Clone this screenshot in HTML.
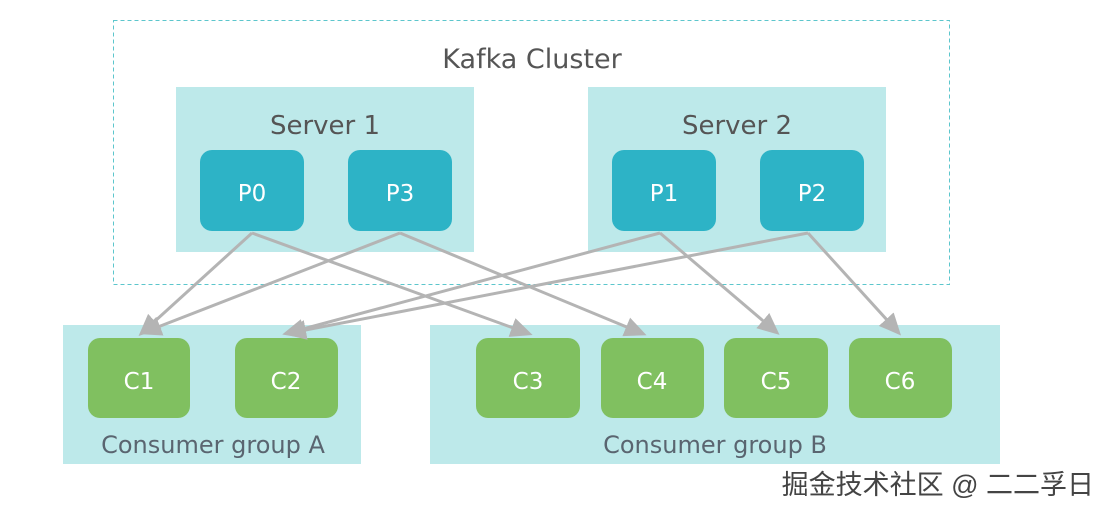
<!DOCTYPE html>
<html><head><meta charset="utf-8"><style>
body{margin:0;width:1112px;height:515px;background:#fff;overflow:hidden;font-family:"DejaVu Sans","Liberation Sans",sans-serif}
</style></head><body>
<svg width="1112" height="515" xmlns="http://www.w3.org/2000/svg" style="position:absolute;left:0;top:0">
<defs><marker id="a" markerWidth="10" markerHeight="10" refX="7" refY="5" orient="auto" markerUnits="userSpaceOnUse" viewBox="0 0 10 10"><path d="M0,0 L10,5 L0,10 z" fill="#b4b4b4"/></marker>
<marker id="b" markerWidth="22" markerHeight="20" refX="16" refY="10" orient="auto" markerUnits="userSpaceOnUse"><path d="M0,0 L22,10 L0,20 z" fill="#b4b4b4"/></marker></defs>
<rect x="113.5" y="20.5" width="836" height="264" fill="none" stroke="#5cc6cc" stroke-dasharray="4,3"/>
<text x="532" y="68" text-anchor="middle" font-size="27" fill="#555" font-family="DejaVu Sans, sans-serif">Kafka Cluster</text>
<rect x="176" y="87" width="298" height="165" fill="#bde9ea"/>
<rect x="588" y="87" width="298" height="165" fill="#bde9ea"/>
<text x="325" y="134" text-anchor="middle" font-size="26" fill="#555">Server 1</text>
<text x="737" y="134" text-anchor="middle" font-size="26" fill="#555">Server 2</text>
<g fill="#2db3c6">
<rect x="200" y="150" width="104" height="81" rx="12"/><rect x="348" y="150" width="104" height="81" rx="12"/>
<rect x="612" y="150" width="104" height="81" rx="12"/><rect x="760" y="150" width="104" height="81" rx="12"/></g>
<g fill="#fff" font-size="23" text-anchor="middle"><text x="252" y="201">P0</text><text x="400" y="201">P3</text><text x="664" y="201">P1</text><text x="812" y="201">P2</text></g>
<rect x="63" y="325" width="298" height="139" fill="#bde9ea"/>
<rect x="430" y="325" width="570" height="139" fill="#bde9ea"/>
<g fill="#80c060">
<rect x="88" y="338" width="102" height="80" rx="12"/><rect x="235" y="338" width="103" height="80" rx="12"/>
<rect x="476" y="338" width="104" height="80" rx="12"/><rect x="601" y="338" width="103" height="80" rx="12"/>
<rect x="724" y="338" width="104" height="80" rx="12"/><rect x="849" y="338" width="103" height="80" rx="12"/></g>
<g fill="#fff" font-size="23" text-anchor="middle"><text x="139" y="389">C1</text><text x="286" y="389">C2</text><text x="528" y="389">C3</text><text x="652" y="389">C4</text><text x="776" y="389">C5</text><text x="900" y="389">C6</text></g>
<text x="213" y="453" text-anchor="middle" font-size="24" fill="#5a6570">Consumer group A</text>
<text x="715" y="453" text-anchor="middle" font-size="24" fill="#5a6570">Consumer group B</text>
<g stroke="#b4b4b4" stroke-width="3" fill="none" marker-end="url(#b)">
<line x1="252" y1="233" x2="143" y2="332"/>
<line x1="252" y1="233" x2="527" y2="333"/>
<line x1="400" y1="233" x2="145" y2="332"/>
<line x1="400" y1="233" x2="641" y2="333"/>
<line x1="660" y1="233" x2="288" y2="333"/>
<line x1="808" y1="233" x2="290" y2="333"/>
<line x1="660" y1="233" x2="775" y2="331"/>
<line x1="808" y1="233" x2="897" y2="331"/>
</g>
<text x="1094" y="494" text-anchor="end" font-size="27" fill="#444" font-family="Liberation Sans, Noto Sans CJK SC, sans-serif">掘金技术社区 @ 二二孚日</text>
</svg>
</body></html>
